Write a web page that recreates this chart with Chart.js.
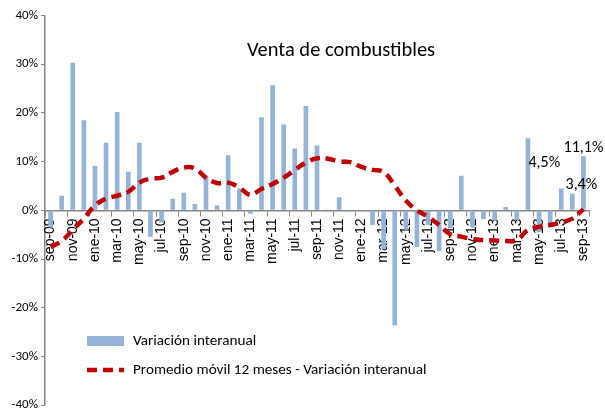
<!DOCTYPE html>
<html>
<head>
<meta charset="utf-8">
<script src="https://cdn.jsdelivr.net/npm/chart.js@4/dist/chart.umd.min.js"></script>
<style>
  html, body { margin: 0; padding: 0; background: #fff; }
  #wrap { width: 605px; height: 416px; }
</style>
</head>
<body>
<div id="wrap"><canvas id="myChart"></canvas></div>
<script>
// meses sep-09 .. sep-13
var meses = ["sep-09","oct-09","nov-09","dic-09","ene-10","feb-10","mar-10","abr-10","may-10","jun-10","jul-10","ago-10",
             "sep-10","oct-10","nov-10","dic-10","ene-11","feb-11","mar-11","abr-11","may-11","jun-11","jul-11","ago-11",
             "sep-11","oct-11","nov-11","dic-11","ene-12","feb-12","mar-12","abr-12","may-12","jun-12","jul-12","ago-12",
             "sep-12","oct-12","nov-12","dic-12","ene-13","feb-13","mar-13","abr-13","may-13","jun-13","jul-13","ago-13",
             "sep-13"];
// variacion interanual (%)
var varInteranual = [-3.5, 3.0, 30.3, 18.5, 9.1, 13.9, 20.2, 7.9, 13.9, -5.4, -2.5, 2.4,
                     3.6, 1.3, 7.0, 1.0, 11.3, 4.5, -0.7, 19.1, 25.7, 17.6, 12.7, 21.4,
                     13.3, 0.2, 2.7, 0.1, -0.2, -3.0, -8.0, -23.6, -4.0, -7.5, -3.0, -8.4,
                     -3.7, 7.1, -3.5, -1.8, -2.1, 0.7, -2.0, 14.8, -4.5, -3.3, 4.5, 3.4,
                     11.1];
// promedio movil 12 meses (%)
var promMovil = [-7.5, -6.3, -4.0, -1.7, 1.0, 2.4, 3.0, 3.8, 5.7, 6.5, 6.7, 7.9,
                 8.8, 8.6, 6.7, 5.6, 5.7, 4.7, 3.2, 4.4, 5.4, 6.7, 8.3, 9.8,
                 10.7, 10.6, 10.0, 9.9, 8.9, 8.3, 7.9, 5.1, 2.0, 0.0, -1.3, -3.0,
                 -4.9, -5.4, -5.9, -6.1, -6.2, -6.3, -6.1, -4.0, -3.4, -3.0, -2.5, -1.7,
                 0.2];
var yTicks = [-40, -30, -20, -10, 0, 10, 20, 30, 40];
var titulo = "Venta de combustibles";

var CAL = "Carlito, Lato, 'Open Sans', sans-serif";
var ARI = "'Liberation Sans', Arial, sans-serif";

// etiquetas de valor en las tres ultimas barras (desplazamiento a mano)
var etiquetas = {46: [-17, -25], 47: [9, -9], 48: [0, -8]};

function fmt(v){
  return v.toFixed(1).replace(".", ",") + "%";
}

const tituloPlugin = {
  id: "tituloPlugin",
  afterDraw(chart){
    const c = chart.ctx;
    c.save();
    c.font = "20.5px " + CAL;
    c.fillStyle = "#000";
    c.textAlign = "center";
    c.textBaseline = "alphabetic";
    c.fillText(titulo, 341, 56);
    c.restore();
  }
};

const etiquetasPlugin = {
  id: "etiquetasPlugin",
  afterDatasetsDraw(chart){
    const c = chart.ctx;
    const meta = chart.getDatasetMeta(0);
    c.save();
    c.font = "16px " + CAL;
    c.fillStyle = "#000";
    c.textAlign = "center";
    c.textBaseline = "middle";
    for (const k in etiquetas){
      const bar = meta.data[k];
      const off = etiquetas[k];
      c.fillText(fmt(varInteranual[k]), bar.x + off[0], bar.y + off[1]);
    }
    c.restore();
  }
};

const leyendaPlugin = {
  id: "leyendaPlugin",
  afterDraw(chart){
    const c = chart.ctx;
    const ds = chart.data.datasets;
    const x0 = 87, w = 37;
    const filas = [341, 370];
    c.save();
    c.font = "15.2px " + CAL;
    c.textBaseline = "middle";
    c.textAlign = "left";
    // barra
    c.fillStyle = ds[0].backgroundColor;
    c.fillRect(x0, filas[0] - 5, w, 10);
    c.fillStyle = "#000";
    c.fillText(ds[0].label, x0 + w + 9, filas[0]);
    // linea
    c.strokeStyle = ds[1].borderColor;
    c.lineWidth = ds[1].borderWidth;
    c.setLineDash(ds[1].borderDash);
    c.beginPath();
    c.moveTo(x0, filas[1]);
    c.lineTo(x0 + w, filas[1]);
    c.stroke();
    c.setLineDash([]);
    c.fillText(ds[1].label, x0 + w + 9, filas[1]);
    c.restore();
  }
};

function init_graph(){
  const ctx = document.getElementById("myChart");
  return new Chart(ctx, {
    type: "bar",
    data: {
      labels: meses,
      datasets: [{
        type: "bar",
        label: "Variación interanual",
        data: varInteranual,
        backgroundColor: "#95B3D7",
        borderWidth: 0,
        barPercentage: 0.42,
        categoryPercentage: 1.0,
        order: 2
      },
      {
        type: "line",
        label: "Promedio móvil 12 meses - Variación interanual",
        data: promMovil,
        borderColor: "#C00000",
        borderWidth: 4.5,
        borderDash: [10, 6],
        pointRadius: 0,
        fill: false,
        tension: 0.4,
        order: 1
      }]
    },
    options: {
      responsive: true,
      maintainAspectRatio: false,
      animation: false,
      layout: { padding: { top: 15.5, right: 16, bottom: 8, left: 0 } },
      plugins: {
        legend: { display: false },
        tooltip: { enabled: false }
      },
      scales: {
        y: {
          min: -40, max: 40,
          afterBuildTicks: s => { s.ticks = yTicks.map(v => ({ value: v })); },
          afterFit: s => { s.width = 45; },
          grid: { drawOnChartArea: false, tickLength: 4, color: "#868686" },
          border: { color: "#868686", width: 1.5 },
          ticks: {
            callback: v => v + "%",
            font: { family: CAL, size: 13 },
            color: "#000",
            padding: 3
          }
        },
        x: {
          position: { y: 0 },
          offset: true,
          grid: {
            drawOnChartArea: false,
            offset: true,
            tickLength: 5,
            color: c => (c.index % 2 ? "rgba(0,0,0,0)" : "#868686")
          },
          border: { color: "#868686", width: 1.5 },
          ticks: {
            autoSkip: false,
            minRotation: 90,
            maxRotation: 90,
            padding: 3,
            callback: (v, i) => (i % 2 ? "" : meses[i]),
            font: { family: ARI, size: 14 },
            color: "#000"
          }
        }
      }
    },
    plugins: [tituloPlugin, etiquetasPlugin, leyendaPlugin]
  });
}

var myChart = init_graph();
</script>
</body>
</html>
